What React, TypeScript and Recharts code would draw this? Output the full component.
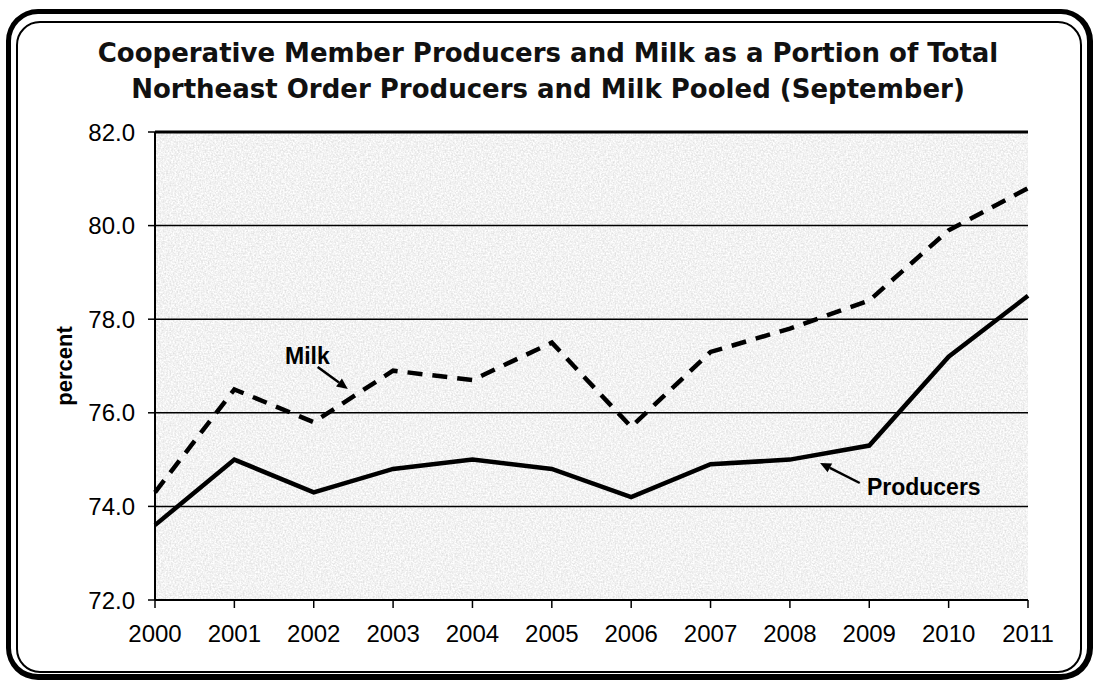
import { LineChart, Line, XAxis, YAxis, CartesianGrid, ReferenceLine, ReferenceDot } from 'recharts';

const years = [2000, 2001, 2002, 2003, 2004, 2005, 2006, 2007, 2008, 2009, 2010, 2011];
const producers = [73.6, 75.0, 74.3, 74.8, 75.0, 74.8, 74.2, 74.9, 75.0, 75.3, 77.2, 78.5];
const milk = [74.3, 76.5, 75.8, 76.9, 76.7, 77.5, 75.7, 77.3, 77.8, 78.4, 79.9, 80.8];
const yTicks = [72, 74, 76, 78, 80, 82];

const chartData = years.map((year, i) => ({ year, producers: producers[i], milk: milk[i] }));

const TICK_FONT = { fontFamily: '"Liberation Sans", Arial, sans-serif', fontSize: 24, fill: '#000' };
const NOTE_FONT = '"Liberation Sans", Arial, sans-serif';

// arrow from (x1,y1) to (x2,y2), head at the end
function Arrow(props: any) {
  const { x1, y1, x2, y2 } = props;
  const ang = Math.atan2(y2 - y1, x2 - x1);
  const len = 11;
  const w = 5;
  const bx = x2 - len * Math.cos(ang);
  const by = y2 - len * Math.sin(ang);
  const px = -Math.sin(ang) * w;
  const py = Math.cos(ang) * w;
  return (
    <g>
      <line x1={x1} y1={y1} x2={bx} y2={by} stroke="#000" strokeWidth={2.5} />
      <polygon points={`${x2},${y2} ${bx + px},${by + py} ${bx - px},${by - py}`} fill="#000" />
    </g>
  );
}

const noteLabel = (text: string, anchor: string) => (props: any) => (
  <text
    x={props.cx}
    y={props.cy}
    textAnchor={anchor}
    dominantBaseline="central"
    fontFamily={NOTE_FONT}
    fontWeight="bold"
    fontSize={23}
    fill="#000"
  >
    {text}
  </text>
);

export default function App() {
  return (
    <div style={{ position: 'absolute', left: 0, top: 0, width: 1096, height: 681, background: '#fff' }}>
      {/* double rounded frame */}
      <div
        style={{
          position: 'absolute', left: 6, top: 9, width: 1086 - 10, height: 670 - 10,
          border: '5px solid #000', borderRightWidth: 6, borderBottomWidth: 6, borderRadius: 32,
        }}
      />
      <div
        style={{
          position: 'absolute', left: 16, top: 21, width: 1066 - 4, height: 652 - 4,
          border: '2px solid #000', borderRadius: 24,
        }}
      />
      <div
        style={{
          position: 'absolute', left: 0, top: 35, width: 1096, textAlign: 'center',
          fontFamily: '"DejaVu Sans", Verdana, sans-serif', fontWeight: 'bold', fontSize: 26,
          lineHeight: '36px', color: '#111',
        }}
      >
        Cooperative Member Producers and Milk as a Portion of Total
        <br />
        Northeast Order Producers and Milk Pooled (September)
      </div>
      <div
        style={{
          position: 'absolute', left: 65, top: 366, transform: 'translate(-50%, -50%) rotate(-90deg)',
          fontFamily: NOTE_FONT, fontWeight: 'bold', fontSize: 22, whiteSpace: 'nowrap',
        }}
      >
        percent
      </div>
      <div style={{ position: 'absolute', left: 0, top: 0 }}>
        <LineChart width={1096} height={681} data={chartData} margin={{ top: 132, right: 68, bottom: 51, left: 0 }}>
          <defs>
            <filter id="grain" x="0" y="0" width="100%" height="100%" colorInterpolationFilters="sRGB">
              <feTurbulence type="fractalNoise" baseFrequency="0.6" numOctaves={2} seed={3} />
              <feColorMatrix
                type="matrix"
                values="0.22 0 0 0 0.84  0.22 0 0 0 0.84  0.22 0 0 0 0.84  0 0 0 0 1"
              />
            </filter>
            <pattern id="paper" width={240} height={240} patternUnits="userSpaceOnUse">
              <rect width={240} height={240} fill="#ececec" filter="url(#grain)" />
            </pattern>
          </defs>
          <CartesianGrid vertical={false} stroke="#000" strokeWidth={1.5} fill="url(#paper)" fillOpacity={1} />
          <XAxis
            dataKey="year"
            type="number"
            domain={[2000, 2011]}
            ticks={years}
            height={30}
            axisLine={{ stroke: '#000', strokeWidth: 2 }}
            tickLine={{ stroke: '#000', strokeWidth: 1.5 }}
            tickSize={8}
            tickMargin={17}
            tick={TICK_FONT}
            interval={0}
          />
          <YAxis
            domain={[72, 82]}
            ticks={yTicks}
            width={155}
            axisLine={{ stroke: '#000', strokeWidth: 2 }}
            tickLine={{ stroke: '#000', strokeWidth: 1.5 }}
            tickSize={7}
            tickMargin={13}
            tick={TICK_FONT}
            tickFormatter={(v: number) => v.toFixed(1)}
          />
          <ReferenceLine y={82} stroke="#000" strokeWidth={3} />
          <Line
            dataKey="milk"
            type="linear"
            stroke="#000"
            strokeWidth={4.5}
            strokeDasharray="15 10"
            dot={false}
            activeDot={false}
            isAnimationActive={false}
          />
          <Line
            dataKey="producers"
            type="linear"
            stroke="#000"
            strokeWidth={4.5}
            dot={false}
            activeDot={false}
            isAnimationActive={false}
          />
          <ReferenceLine segment={[{ x: 2002.05, y: 76.98 }, { x: 2002.43, y: 76.51 }]} shape={Arrow} />
          <ReferenceDot x={2001.92} y={77.21} r={0} shape={noteLabel('Milk', 'middle')} />
          <ReferenceLine segment={[{ x: 2008.88, y: 74.5 }, { x: 2008.38, y: 74.93 }]} shape={Arrow} />
          <ReferenceDot x={2008.97} y={74.41} r={0} shape={noteLabel('Producers', 'start')} />
        </LineChart>
      </div>
    </div>
  );
}
